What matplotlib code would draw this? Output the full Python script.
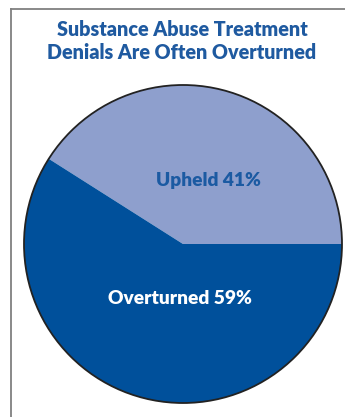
import matplotlib.pyplot as plt
from matplotlib.patches import Circle

# data
labels = ["Upheld", "Overturned"]
shares = [41, 59]
colors = ["#8e9fcd", "#00509b"]
text_colors = ["#1b5aa2", "white"]

W, H = 345, 417
fig = plt.figure(figsize=(W / 100, H / 100), dpi=100)
ax = fig.add_axes([0, 0, 1, 1])

cx, cy, r = 183, H - 244, 159
wedges, _ = ax.pie(shares, colors=colors, startangle=0, counterclock=True,
                   center=(cx, cy), radius=r,
                   wedgeprops=dict(linewidth=0, antialiased=True))
ax.add_patch(Circle((cx, cy), r, fill=False, edgecolor="#222222", linewidth=1.3))

# slice labels
label_pos = [(208, H - 180), (180, H - 298)]
for lab, val, (x, y), c in zip(labels, shares, label_pos, text_colors):
    ax.text(x, y, f"{lab} {val}%", ha="center", va="center", color=c,
            fontsize=13.8, fontweight="heavy", family="Lato")

# title
ax.text(182, H - 41, "Substance Abuse Treatment\nDenials Are Often Overturned",
        ha="center", va="center", color="#1f5aa0", fontsize=14.2,
        fontweight="heavy", family="Lato", linespacing=1.2)

# frame lines
ax.plot([10.5, 10.5], [0, H - 8.5], color="#808080", lw=1.3)
ax.plot([10.5, W], [H - 8.5, H - 8.5], color="#808080", lw=1.3)

ax.set_xlim(0, W)
ax.set_ylim(0, H)
ax.set_aspect("equal")
ax.axis("off")

fig.savefig("out.png", dpi=100)
